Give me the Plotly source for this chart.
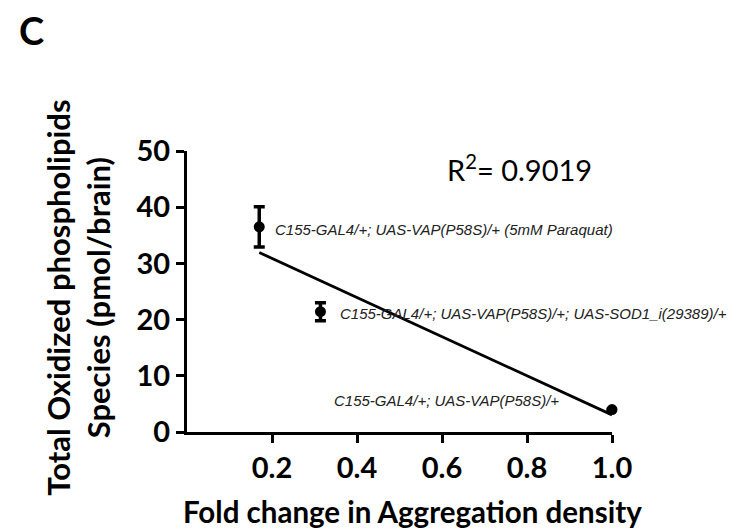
import numpy as np
import plotly.graph_objects as go

# Data
fold_change = [0.17, 0.314, 1.0]
ox_lipids = [36.5, 21.4, 4.0]
ox_err = [3.6, 1.6, 0.0]
genotypes = [
    "C155-GAL4/+; UAS-VAP(P58S)/+ (5mM Paraquat)",
    "C155-GAL4/+; UAS-VAP(P58S)/+; UAS-SOD1_i(29389)/+",
    "C155-GAL4/+; UAS-VAP(P58S)/+",
]
label_pos = [(0.202, 36.0), (0.355, 21.0), (0.341, 5.6)]
x_ticks = [0.2, 0.4, 0.6, 0.8, 1.0]
y_ticks = [0, 10, 20, 30, 40, 50]
r2_text = "R<sup>2</sup>= 0.9019"

# Linear regression
slope, intercept = np.polyfit(fold_change, ox_lipids, 1)
fit_x = [min(fold_change), max(fold_change)]
fit_y = [slope * v + intercept for v in fit_x]

fig = go.Figure()
fig.add_trace(go.Scatter(
    x=fit_x, y=fit_y, mode="lines",
    line=dict(color="black", width=2.8),
    showlegend=False, hoverinfo="skip", cliponaxis=False,
))
fig.add_trace(go.Scatter(
    x=fold_change, y=ox_lipids, mode="markers",
    marker=dict(color="black", size=11),
    error_y=dict(type="data", array=ox_err, color="black", thickness=3.5, width=5.5),
    showlegend=False, cliponaxis=False,
))

annotations = []
for (lx, ly), txt in zip(label_pos, genotypes):
    annotations.append(dict(
        x=lx, y=ly, xref="x", yref="y", text=f"<i>{txt}</i>", showarrow=False,
        xanchor="left", yanchor="middle",
        font=dict(family="Liberation Sans, Arial", size=15, color="#222222"),
    ))
annotations.append(dict(
    x=0.783, y=47.0, xref="x", yref="y", text=r2_text, showarrow=False,
    xanchor="center", yanchor="middle",
    font=dict(family="Lato, Open Sans", size=29, color="black"),
))
annotations.append(dict(
    x=-0.257, y=0.477, xref="paper", yref="paper",
    text="<b>Total Oxidized phospholipids<br>Species (pmol/brain)</b>",
    showarrow=False, textangle=-90, xanchor="center", yanchor="middle",
    font=dict(family="Lato, Open Sans", size=31, color="black"),
))
annotations.append(dict(
    x=0.53, y=-0.352, xref="paper", yref="paper",
    text="<b>Fold change in Aggregation density</b>",
    showarrow=False, xanchor="center", yanchor="bottom",
    font=dict(family="Lato, Open Sans", size=29.5, color="black"),
))
annotations.append(dict(
    x=-0.367, y=1.43, xref="paper", yref="paper",
    text="<b>C</b>", showarrow=False, xanchor="center", yanchor="middle",
    font=dict(family="Lato, Open Sans", size=38, color="black"),
))

fig.update_layout(
    width=740, height=531, autosize=False,
    margin=dict(l=179, r=136, t=143, b=107),
    paper_bgcolor="white", plot_bgcolor="white",
    annotations=annotations,
    xaxis=dict(
        range=[0, 1.0], tickvals=x_ticks, ticktext=[f"{v:.1f}" for v in x_ticks],
        showgrid=False, zeroline=False, showline=True, linecolor="black", linewidth=3,
        ticks="outside", ticklen=8, tickwidth=3, tickcolor="black",
        tickfont=dict(family="Lato, Open Sans", size=29, color="black", weight="bold"),
    ),
    yaxis=dict(
        range=[0, 50], tickvals=y_ticks,
        showgrid=False, zeroline=False, showline=True, linecolor="black", linewidth=3,
        ticks="outside", ticklen=8, tickwidth=3, tickcolor="black",
        tickfont=dict(family="Lato, Open Sans", size=29, color="black", weight="bold"),
    ),
)

fig.write_html("out.html")
